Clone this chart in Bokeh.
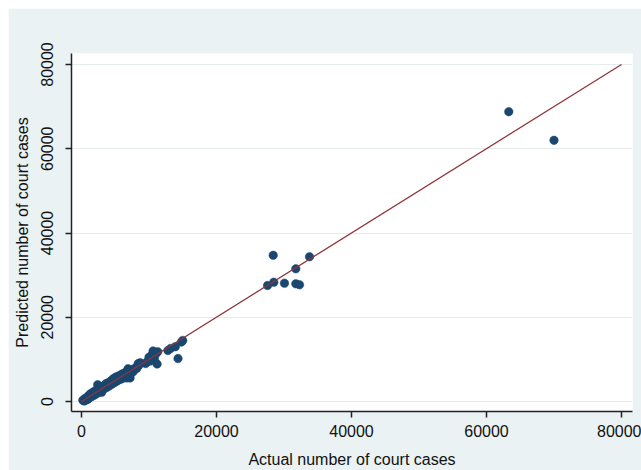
from bokeh.plotting import figure
from bokeh.models import FixedTicker, Range1d, BasicTickFormatter
from bokeh.embed import file_html
from bokeh.resources import INLINE

# Actual vs predicted number of court cases
actual = [200, 400, 500, 600, 800, 900, 1000, 1100, 1200, 1300, 1400, 1500, 1600, 1700,
          1800, 1900, 2000, 2100, 2200, 2300, 2400, 2500, 2600, 2700, 2800, 2900, 3000,
          3100, 3200, 3300, 3400, 3500, 3600, 3700, 3800, 3900, 4000, 4100, 4200, 4300,
          4400, 4500, 4600, 4700, 4800, 4900, 5000, 5100, 5200, 5300, 5400, 5500, 5600,
          5700, 5800, 5900, 6000, 6100, 6200, 6300, 6400, 6500, 6600, 6700, 6800, 6900,
          7000, 7100, 7200, 7300, 7500, 7600, 7800, 8000, 8200, 8400, 8500, 8700, 9500,
          9700, 10000, 10200, 10400, 10600, 10800, 11000, 11200, 11300, 12800, 13200,
          13900, 14300, 14800, 15000,
          27560, 28490, 28400, 30070, 31750, 31750, 32300, 33780,
          63300, 70000]
predicted = [300, 100, 700, 300, 900, 500, 1300, 800, 1600, 1000, 1900, 1200, 1700, 2200,
             1400, 2000, 2500, 1700, 2200, 2800, 4000, 2100, 2700, 3300, 2400, 3000, 2200,
             3500, 2900, 3700, 3100, 3600, 4200, 3300, 3900, 4400, 3600, 4100, 4700, 3900,
             4400, 5100, 4200, 4700, 5500, 4500, 5000, 5800, 4800, 5400, 6000, 5100, 5700,
             6200, 5300, 5900, 6500, 5500, 6100, 6700, 5800, 6400, 7000, 5600, 6600, 7800,
             6300, 7300, 5600, 6900, 7600, 7000, 7400, 8000, 7900, 9000, 8600, 9200, 9000,
             9400, 10500, 9600, 11000, 12000, 10200, 11300, 8900, 11800, 12100, 12600,
             13000, 10200, 14100, 14500,
             27540, 28330, 34700, 28090, 31500, 27940, 27700, 34350,
             68800, 62000]

fit_x = [0, 80000]
fit_y = [0, 80000]

x_ticks = [0, 20000, 40000, 60000, 80000]
y_ticks = [0, 20000, 40000, 60000, 80000]

FONT = "Liberation Sans"

p = figure(width=633, height=462, output_backend="svg", toolbar_location=None,
           x_range=Range1d(-1481, 81630), y_range=Range1d(-2374, 82612),
           min_border_left=63, min_border_right=9, min_border_top=45, min_border_bottom=59,
           background_fill_color="white", border_fill_color="#EAF2F3",
           margin=(8, 0, 0, 8))
p.outline_line_color = None

p.scatter(actual, predicted, size=8.5, fill_color="#1A476F", line_color="#1A476F", line_width=0.5)
p.line(fit_x, fit_y, line_color="#90353B", line_width=1.3)

p.xgrid.visible = False
p.ygrid.grid_line_color = "#E4EDEE"
p.ygrid.grid_line_width = 1.2
p.ygrid.ticker = FixedTicker(ticks=y_ticks)

for ax in (p.xaxis[0], p.yaxis[0]):
    ax.axis_line_color = "#222222"
    ax.axis_line_width = 1.5
    ax.major_tick_line_color = "#222222"
    ax.major_tick_line_width = 1.5
    ax.major_tick_in = 0
    ax.major_tick_out = 6
    ax.minor_tick_line_color = None
    ax.major_label_text_font = FONT
    ax.major_label_text_font_size = "16px"
    ax.major_label_text_color = "#111111"
    ax.axis_label_text_font = FONT
    ax.axis_label_text_font_size = "16px"
    ax.axis_label_text_font_style = "normal"
    ax.axis_label_text_color = "#111111"
    ax.formatter = BasicTickFormatter(use_scientific=False)

p.xaxis.ticker = FixedTicker(ticks=x_ticks)
p.yaxis.ticker = FixedTicker(ticks=y_ticks)
p.yaxis.major_label_orientation = "vertical"
p.xaxis.axis_label = "Actual number of court cases"
p.yaxis.axis_label = "Predicted number of court cases"
p.xaxis.major_label_standoff = 7
p.xaxis.axis_label_standoff = 11
p.yaxis.major_label_standoff = 12
p.yaxis.axis_label_standoff = 8

open("out.html", "w").write(file_html(p, INLINE))
